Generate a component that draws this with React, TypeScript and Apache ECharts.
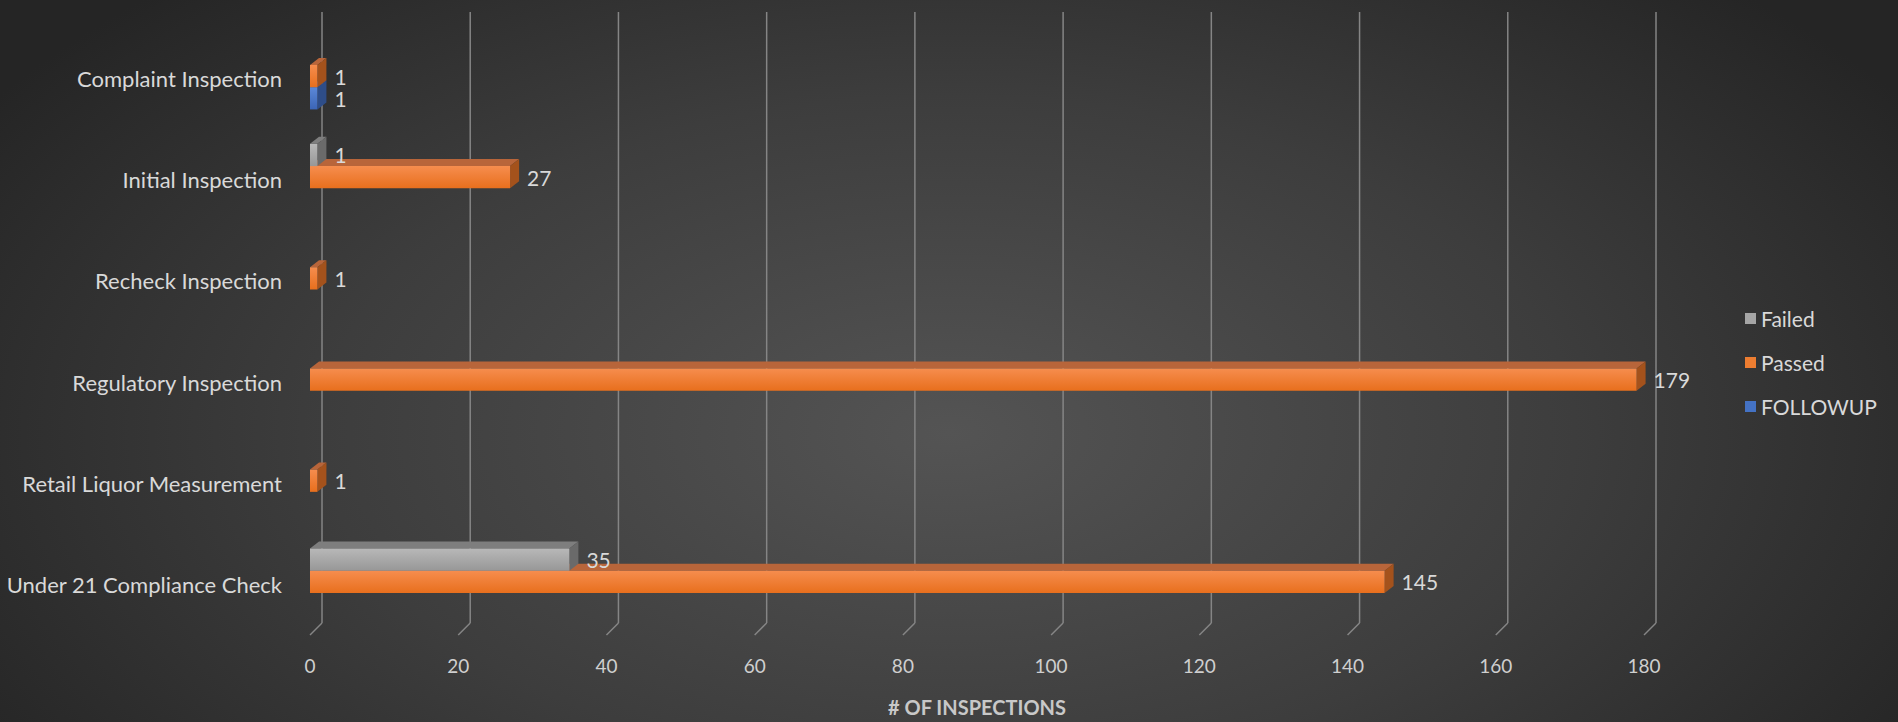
import React, { useEffect, useRef } from "react";
import * as echarts from "echarts";

const categories = [
  "Complaint Inspection",
  "Initial Inspection",
  "Recheck Inspection",
  "Regulatory Inspection",
  "Retail Liquor Measurement",
  "Under 21 Compliance Check",
];
const failedValues: (number | null)[] = [null, 1, null, null, null, 35];
const passedValues: (number | null)[] = [1, 27, 1, 179, 1, 145];
const followupValues: (number | null)[] = [1, null, null, null, null, null];
const seriesNames = ["Failed", "Passed", "FOLLOWUP"];
const xTicks = [0, 20, 40, 60, 80, 100, 120, 140, 160, 180];
const axisTitle = "# OF INSPECTIONS";

const palettes = [
  { front: ["#b8b8b8", "#979797"], top: "#7e7e7e", side: "#6a6a6a", legend: "#a5a5a5" },
  { front: ["#f68d4e", "#e86f1d"], top: "#b8653a", side: "#a4521c", legend: "#ed7d31" },
  { front: ["#5b88d8", "#3b65b6"], top: "#3a5a96", side: "#2e4d88", legend: "#4472c4" },
];

const FONT = "Lato";

function makeBarRender(s: number) {
  const pal = palettes[s];
  return (params: any, api: any) => {
    const v = api.value(0);
    const c = api.value(1);
    const start = api.coord([0, c]);
    const end = api.coord([v, c]);
    const band = Math.abs(api.size([0, 1])[1]);
    const h = band * 0.22;
    const cy = start[1] - band * 0.025 + (s - 1) * h;
    const top = cy - h / 2;
    const bottom = cy + h / 2;
    const x0 = start[0];
    const x1 = end[0];
    const dx = 9;
    const dy = 7;
    return {
      type: "group",
      children: [
        {
          type: "polygon",
          shape: { points: [[x0, top], [x0 + dx, top - dy], [x1 + dx, top - dy], [x1, top]] },
          style: { fill: pal.top },
        },
        {
          type: "polygon",
          shape: { points: [[x1, top], [x1 + dx, top - dy], [x1 + dx, bottom - dy], [x1, bottom]] },
          style: { fill: pal.side },
        },
        {
          type: "rect",
          shape: { x: x0, y: top, width: x1 - x0, height: h },
          style: {
            fill: new echarts.graphic.LinearGradient(0, 0, 0, 1, [
              { offset: 0, color: pal.front[0] },
              { offset: 1, color: pal.front[1] },
            ]),
          },
        },
        {
          type: "text",
          x: x1 + dx + 8,
          y: cy,
          style: {
            text: String(v),
            fill: "#d9d9d9",
            fontSize: 21,
            fontFamily: FONT,
            verticalAlign: "middle",
            align: "left",
          },
        },
      ],
    };
  };
}

function gridRender(params: any, api: any) {
  const v = api.value(0);
  const p = api.coord([v, 0]);
  const cs = params.coordSys;
  const bottom = cs.y + cs.height;
  const x = p[0];
  const off = 12;
  return {
    type: "group",
    children: [
      {
        type: "line",
        shape: { x1: x + off, y1: 12, x2: x + off, y2: bottom - off },
        style: { stroke: "#858585", lineWidth: 1.5 },
      },
      {
        type: "line",
        shape: { x1: x + off, y1: bottom - off, x2: x, y2: bottom },
        style: { stroke: "#858585", lineWidth: 1.5 },
      },
    ],
  };
}

const seriesValues = [failedValues, passedValues, followupValues];

export default function App() {
  const ref = useRef<HTMLDivElement>(null);
  useEffect(() => {
    if (!ref.current) return;
    const chart = echarts.init(ref.current, null, { renderer: "svg" });
    const barSeries = seriesNames.map((name, s) => ({
      type: "custom",
      name,
      z: 10 - s,
      itemStyle: { color: palettes[s].legend },
      renderItem: makeBarRender(s),
      data: seriesValues[s]
        .map((v, i) => (v == null ? null : [v, i]))
        .filter((d) => d !== null),
      encode: { x: 0, y: 1 },
    }));
    chart.setOption({
      animation: false,
      backgroundColor: "transparent",
      textStyle: { fontFamily: FONT },
      grid: { left: 310, right: 254, top: 28, bottom: 80, containLabel: false },
      legend: {
        data: seriesNames.map((n, i) => ({ name: n, itemStyle: { color: palettes[i].legend } })),
        orient: "vertical",
        left: 1740,
        top: 303,
        icon: "rect",
        itemWidth: 11,
        itemHeight: 11,
        itemGap: 23,
        textStyle: { color: "#d9d9d9", fontSize: 21, fontFamily: FONT },
        selectedMode: false,
      },
      xAxis: {
        type: "value",
        min: 0,
        max: 180,
        interval: 20,
        axisLine: { show: false },
        axisTick: { show: false },
        splitLine: { show: false },
        axisLabel: { color: "#cfcfcf", fontSize: 19, fontFamily: FONT, margin: 21 },
        name: axisTitle,
        nameLocation: "middle",
        nameGap: 62,
        nameTextStyle: { color: "#c8c8c8", fontSize: 20, fontWeight: "bold", fontFamily: FONT },
      },
      yAxis: {
        type: "category",
        inverse: true,
        data: categories,
        axisLine: { show: false },
        axisTick: { show: false },
        splitLine: { show: false },
        axisLabel: { color: "#d9d9d9", fontSize: 22, fontFamily: FONT, margin: 28 },
      },
      series: [
        {
          type: "custom",
          name: "gridlines",
          z: 1,
          silent: true,
          renderItem: gridRender,
          data: xTicks.map((v) => [v, 0]),
          encode: { x: 0, y: 1 },
        },
        ...barSeries,
      ],
    });
    return () => chart.dispose();
  }, []);
  return (
    <div
      ref={ref}
      style={{
        position: "absolute",
        left: 0,
        top: 0,
        width: 1898,
        height: 722,
        background:
          "radial-gradient(ellipse 60% 85% at 50% 60%, #545454 0%, #3d3d3d 55%, #252525 100%)",
      }}
    />
  );
}
